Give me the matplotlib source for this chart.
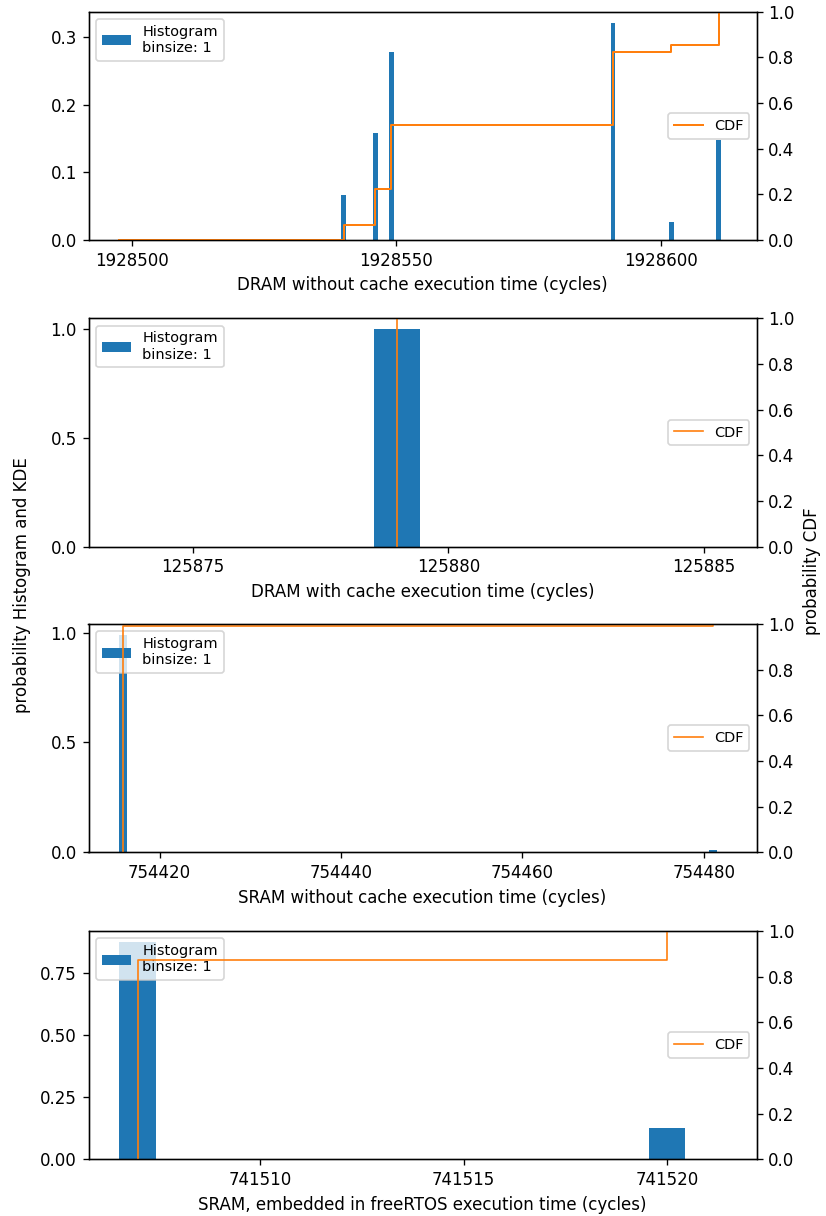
import numpy as np
import matplotlib
matplotlib.use("Agg")
import matplotlib.pyplot as plt
from matplotlib.ticker import MultipleLocator

# ---- data ----
dram_nc_x = [1928540, 1928546, 1928549, 1928591, 1928602, 1928611]
dram_nc_p = [0.066, 0.159, 0.278, 0.322, 0.027, 0.148]
dram_nc_cdf_start = 1928497.5

dram_c_x = [125879]
dram_c_p = [1.0]

sram_nc_x = [754416, 754481]
sram_nc_p = [0.99, 0.01]

sram_os_x = [741507, 741520]
sram_os_p = [0.875, 0.125]

xlabels = [
    "DRAM without cache execution time (cycles)",
    "DRAM with cache execution time (cycles)",
    "SRAM without cache execution time (cycles)",
    "SRAM, embedded in freeRTOS execution time (cycles)",
]
xticks = [
    [1928500, 1928550, 1928600],
    [125875, 125880, 125885],
    [754420, 754440, 754460, 754480],
    [741510, 741515, 741520],
]
ytick_steps = [0.1, 0.5, 0.5, 0.25]
xlims = [
    (1928491.7, 1928618.2),
    (125872.95, 125886.04),
    (754412.17, 754485.84),
    (741505.79, 741522.2),
]
panels = [
    (dram_nc_x, dram_nc_p, dram_nc_cdf_start),
    (dram_c_x, dram_c_p, None),
    (sram_nc_x, sram_nc_p, None),
    (sram_os_x, sram_os_p, None),
]
cdf_lw = [1.2, 1.0, 1.0, 1.0]

fig = plt.figure(figsize=(826 / 120, 1216 / 120), dpi=120)
left = 88.5 / 826
width = (756.7 - 88.5) / 826
h = 228.3 / 1216
bottoms_px = [240, 546.7, 852.3, 1159.3]
leg_fs = 8.7

for i, (xs, ps, start) in enumerate(panels):
    b = (1216 - bottoms_px[i]) / 1216
    ax = fig.add_axes([left, b, width, h])
    ax.bar(xs, ps, width=0.9, color="#1f77b4", label="Histogram\nbinsize: 1")
    ax.set_xlim(*xlims[i])
    ax.set_xticks(xticks[i])
    ax.yaxis.set_major_locator(MultipleLocator(ytick_steps[i]))
    ax.ticklabel_format(axis="x", useOffset=False, style="plain")
    ax.set_xlabel(xlabels[i])
    ax.legend(loc="upper left", fontsize=leg_fs)

    ax2 = ax.twinx()
    cdf = np.cumsum(ps) / np.sum(ps)
    cx = list(xs)
    cy = list(cdf)
    if start is not None:
        cx = [start] + cx
        cy = [0.0] + cy
    else:
        cx = [xs[0]] + cx
        cy = [0.0] + cy
    ax2.step(cx, cy, where="post", color="#ff7f0e", lw=cdf_lw[i], label="CDF")
    ax2.set_ylim(0, 1.0)
    ax2.set_xlim(*xlims[i])
    ax2.legend(loc="center right", fontsize=leg_fs)

fig.text(22 / 826, 1 - 585 / 1216, "probability Histogram and KDE",
         rotation=90, ha="center", va="center", fontsize=10)
fig.text(812 / 826, 1 - 571 / 1216, "probability CDF",
         rotation=90, ha="center", va="center", fontsize=10)

fig.savefig("out.png", dpi=120)
